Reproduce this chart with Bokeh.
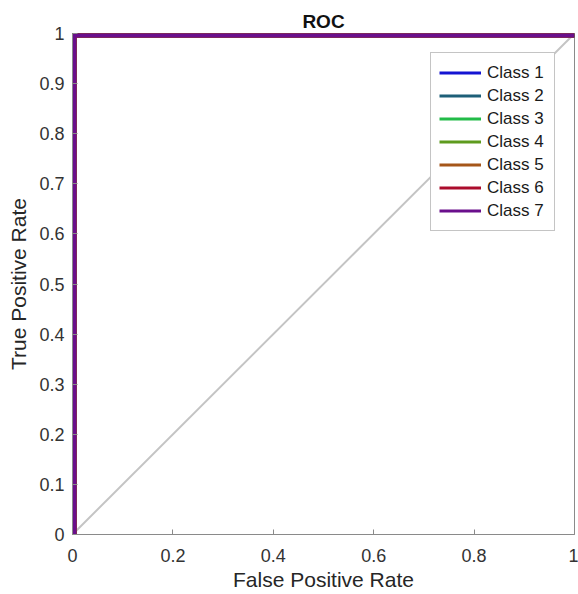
from bokeh.plotting import figure
from bokeh.models import Range1d, FixedTicker, Legend, LegendItem
from bokeh.embed import file_html
from bokeh.resources import INLINE

# ---- data ----
class_names = ["Class 1", "Class 2", "Class 3", "Class 4", "Class 5", "Class 6", "Class 7"]
class_colors = ["#1414d2", "#1d5f78", "#22bb48", "#5e9b1e", "#a5561a", "#ab0c2c", "#6a0f8c"]
fpr_values = [
    [0.0, 0.0, 1.0],
    [0.0, 0.0, 1.0],
    [0.0, 0.0, 1.0],
    [0.0, 0.0, 1.0],
    [0.0, 0.0, 1.0],
    [0.0, 0.0, 1.0],
    [0.0, 0.0, 1.0],
]
tpr_values = [
    [0.0, 1.0, 1.0],
    [0.0, 1.0, 1.0],
    [0.0, 1.0, 1.0],
    [0.0, 1.0, 1.0],
    [0.0, 1.0, 1.0],
    [0.0, 1.0, 1.0],
    [0.0, 1.0, 1.0],
]
chance_x = [0.0, 1.0]
chance_y = [0.0, 1.0]
x_ticks = [0, 0.2, 0.4, 0.6, 0.8, 1]
x_tick_labels = ["0", "0.2", "0.4", "0.6", "0.8", "1"]
y_ticks = [0, 0.1, 0.2, 0.3, 0.4, 0.5, 0.6, 0.7, 0.8, 0.9, 1]
y_tick_labels = ["0", "0.1", "0.2", "0.3", "0.4", "0.5", "0.6", "0.7", "0.8", "0.9", "1"]

FONT = "Liberation Sans"
AXIS_GRAY = "#8a8a8a"

p = figure(width=578, height=594, output_backend="svg", toolbar_location=None,
           x_range=Range1d(0, 1), y_range=Range1d(0, 1),
           min_border_left=72, min_border_right=4, min_border_top=33, min_border_bottom=60,
           title="ROC")

p.background_fill_color = "white"
p.border_fill_color = "white"
p.outline_line_color = AXIS_GRAY
p.grid.visible = False

p.title.text_font = FONT
p.title.text_font_size = "19px"
p.title.text_font_style = "bold"
p.title.text_color = "#111111"
p.title.align = "center"
p.title.standoff = 3

for ax in (p.xaxis[0], p.yaxis[0]):
    ax.axis_line_color = AXIS_GRAY
    ax.major_tick_line_color = AXIS_GRAY
    ax.minor_tick_line_color = None
    ax.major_tick_in = 5
    ax.major_tick_out = 0
    ax.major_label_text_font = FONT
    ax.major_label_text_font_size = "18px"
    ax.major_label_text_color = "#333333"
    ax.axis_label_text_font = FONT
    ax.axis_label_text_font_size = "21px"
    ax.axis_label_text_font_style = "normal"
    ax.axis_label_text_color = "#262626"

p.xaxis.ticker = FixedTicker(ticks=x_ticks)
p.xaxis.major_label_overrides = dict(zip(x_ticks, x_tick_labels))
p.yaxis.ticker = FixedTicker(ticks=y_ticks)
p.yaxis.major_label_overrides = dict(zip(y_ticks, y_tick_labels))
p.xaxis.axis_label = "False Positive Rate"
p.yaxis.axis_label = "True Positive Rate"
p.xaxis.major_label_standoff = 14
p.xaxis.axis_label_standoff = 3
p.yaxis.major_label_standoff = 8
p.yaxis.axis_label_standoff = 6

# chance diagonal
p.line(chance_x, chance_y, line_color="#c4c4c4", line_width=2)

# legend proxies: same colours, thinner line, data placed outside the visible ranges
proxy_x = [2.0, 3.0]
proxy_y = [2.0, 3.0]

legend_items = []
for name, color, xs, ys in zip(class_names, class_colors, fpr_values, tpr_values):
    # drawn wide: half of the stroke is clipped at the frame edge
    p.line(xs, ys, line_color=color, line_width=8, line_join="miter")
    proxy = p.line(proxy_x, proxy_y, line_color=color, line_width=3)
    legend_items.append(LegendItem(label=name, renderers=[proxy]))

legend = Legend(items=legend_items, location="top_right", margin=19,
                padding=8, spacing=0, label_height=23, glyph_height=23, glyph_width=42,
                label_width=59, label_standoff=6, label_text_font=FONT,
                label_text_font_size="17px", label_text_color="#1a1a1a",
                border_line_color=AXIS_GRAY, border_line_width=1,
                background_fill_color="white", background_fill_alpha=1.0)
p.add_layout(legend)

open("out.html", "w").write(file_html(p, INLINE))
